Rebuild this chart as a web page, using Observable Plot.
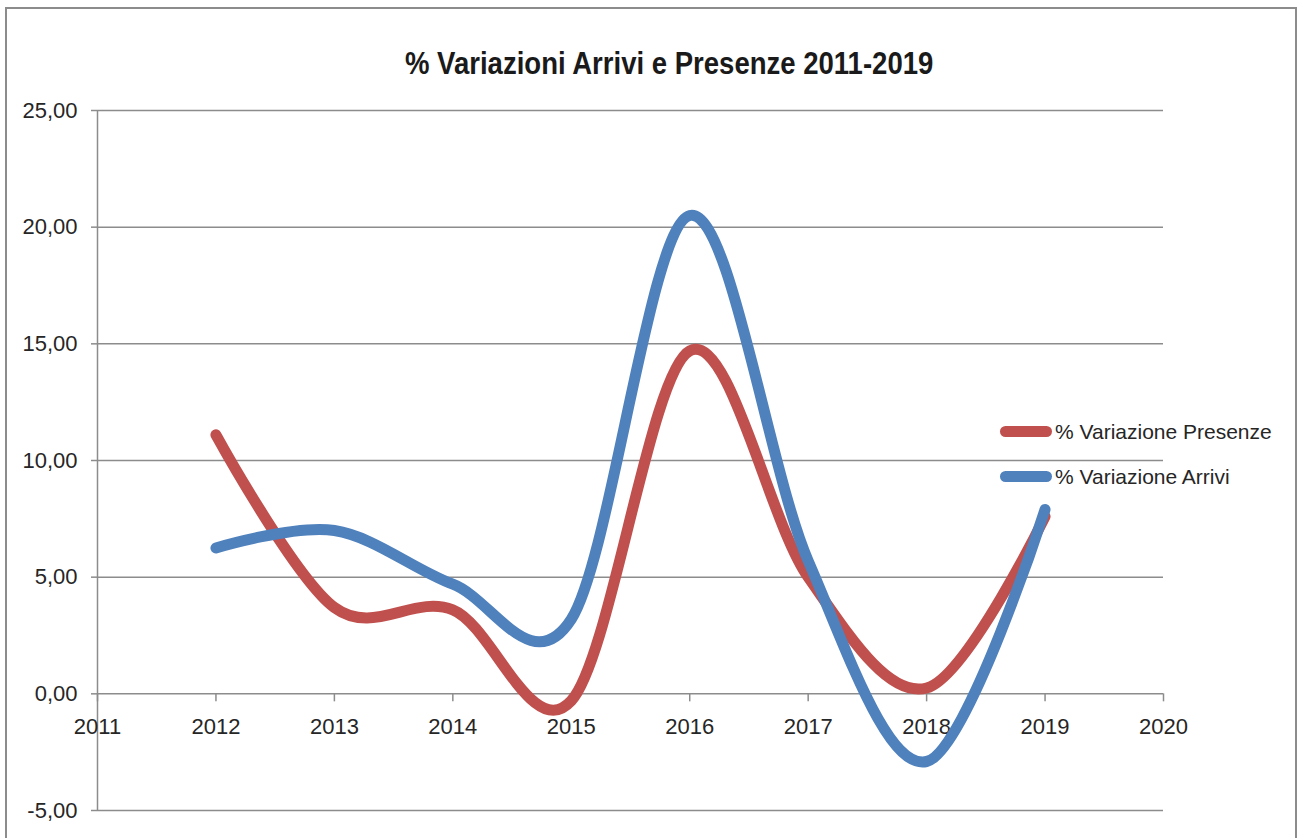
<!DOCTYPE html>
<html><head><meta charset="utf-8">
<script src="https://cdn.jsdelivr.net/npm/d3@7"></script>
<script src="https://cdn.jsdelivr.net/npm/@observablehq/plot@0.6"></script>
<style>
body{margin:0;background:#fff;}
#wrap{position:relative;width:1302px;height:838px;overflow:hidden;font-family:"Liberation Sans",Arial,sans-serif;color:#262626;}
#frame{position:absolute;left:5px;top:7px;width:1292px;height:860px;border:2px solid #8c8c8c;box-sizing:border-box;pointer-events:none;}
#title{height:96px;box-sizing:border-box;padding-top:47px;padding-left:36px;text-align:center;font-family:"Liberation Sans",Arial,sans-serif;font-weight:bold;font-size:32px;line-height:33px;color:#1a1a1a;white-space:nowrap;}
#title span{display:inline-block;transform:scaleX(0.86);transform-origin:center;}
#legend{position:absolute;left:1000px;top:409px;font-size:21px;line-height:45px;}
.row{display:flex;align-items:center;height:45px;}
.sw{width:52px;height:11px;border-radius:6px;margin-right:3px;}
</style></head>
<body><div id="wrap"><div id="title"><span></span></div><div id="chart"></div><div id="legend"></div><div id="frame"></div></div>
<script>
const titleText = "% Variazioni Arrivi e Presenze 2011-2019";
const years = [2012, 2013, 2014, 2015, 2016, 2017, 2018, 2019];
const presenze = [11.1, 3.7, 3.6, -0.3, 14.7, 5.0, 0.25, 7.6];
const arrivi = [6.25, 7.0, 4.7, 3.2, 20.5, 5.7, -2.9, 7.9];
const seriesNames = ["% Variazione Presenze", "% Variazione Arrivi"];
const seriesColors = ["#C0504D", "#4F81BD"];
const xTicks = [2011, 2012, 2013, 2014, 2015, 2016, 2017, 2018, 2019, 2020];
const yTicks = [-5, 0, 5, 10, 15, 20, 25];

document.querySelector("#title span").textContent = titleText;

const data = years.flatMap((yr, i) => [
  {year: yr, value: presenze[i], s: seriesNames[0]},
  {year: yr, value: arrivi[i], s: seriesNames[1]}
]);
const fmt = d => d.toFixed(2).replace(".", ",");
const gridColor = "#8c8c8c";

const chart = Plot.plot({
  width: 1302, height: 742,
  marginLeft: 97, marginRight: 139, marginTop: 14, marginBottom: 28,
  style: {fontFamily: "'Liberation Sans', Arial, sans-serif", fontSize: "22px", color: "#262626", background: "transparent", overflow: "visible"},
  x: {domain: [2011, 2020], axis: null},
  y: {domain: [-5, 25], axis: null},
  color: {domain: seriesNames, range: seriesColors},
  marks: [
    Plot.gridY(yTicks, {stroke: gridColor, strokeOpacity: 1, strokeWidth: 1.5}),
    Plot.axisY(yTicks, {tickSize: 6, tickPadding: 14, tickFormat: fmt, stroke: gridColor, strokeWidth: 1.5, label: null}),
    Plot.ruleX([2011], {stroke: gridColor, strokeWidth: 1.5}),
    Plot.ruleX(xTicks, {x: d => d, y1: 0, y2: 0, insetBottom: -8, stroke: gridColor, strokeWidth: 1.5}),
    Plot.text(xTicks, {x: d => d, y: 0, dy: 33, text: d => String(d), fill: "#262626"}),
    Plot.line(data, {x: "year", y: "value", stroke: "s", z: "s", strokeWidth: 11, curve: "cardinal", strokeLinecap: "round", strokeLinejoin: "round"})
  ]
});
document.getElementById("chart").appendChild(chart);

const legend = document.getElementById("legend");
seriesNames.forEach((name, i) => {
  const row = document.createElement("div");
  row.className = "row";
  const sw = document.createElement("div");
  sw.className = "sw";
  sw.style.background = seriesColors[i];
  const t = document.createElement("span");
  t.textContent = name;
  row.appendChild(sw); row.appendChild(t);
  legend.appendChild(row);
});
</script>
</body></html>
